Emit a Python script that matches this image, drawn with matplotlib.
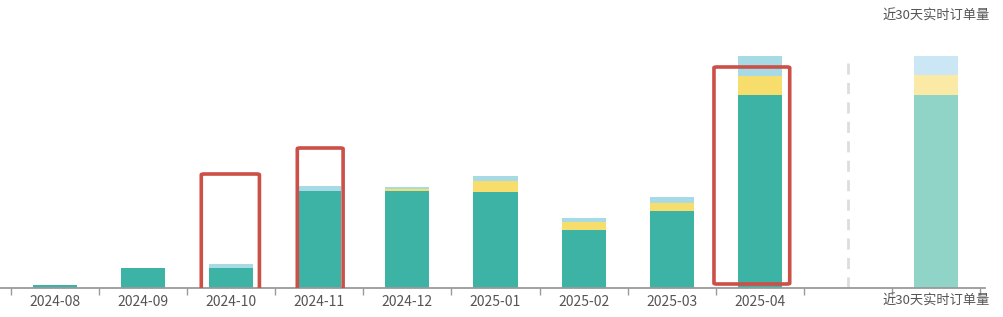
import matplotlib.pyplot as plt
from matplotlib.patches import FancyBboxPatch

plt.rcParams['font.family'] = ['Noto Sans CJK SC', 'DejaVu Sans']

# 数据
months = ["2024-08", "2024-09", "2024-10", "2024-11", "2024-12",
          "2025-01", "2025-02", "2025-03", "2025-04", "", "近30天实时订单量"]
teal = [3, 20, 20, 97, 97, 96, 58, 77, 193, 0, 193]
yellow = [0, 0, 0, 0, 2, 11, 8, 8, 19, 0, 20]
blue = [0, 0, 4, 5, 2, 5, 4, 6, 20, 0, 19]

W, H = 1004, 317
fig = plt.figure(figsize=(W / 100, H / 100), dpi=100)
ax = fig.add_axes([0, (H - 288) / H, 985 / W, 288 / H])

n = len(months)
cat = (980 - 11) / n
x0 = -0.5 - 11 / cat
x1 = n - 0.5 + 5 / cat
ax.set_xlim(x0, x1)
ax.set_ylim(0, 288)

xs = list(range(n))
c_teal = ["#3db3a6"] * (n - 1) + ["#8fd4c7"]
c_yel = ["#f6dd6c"] * (n - 1) + ["#fbeaa6"]
c_blue = ["#a6dbe6"] * (n - 1) + ["#cbe7f5"]

bot2 = [a + b for a, b in zip(teal, yellow)]
ax.bar(xs, teal, width=0.5, color=c_teal, zorder=2)
ax.bar(xs, yellow, width=0.5, bottom=teal, color=c_yel, zorder=2)
ax.bar(xs, blue, width=0.5, bottom=bot2, color=c_blue, zorder=2)

# 分隔虚线
ax.plot([9, 9], [0, 233], color="#dddddd", lw=2, ls=(0, (4, 3)), zorder=1)

# 红框标注 (中心, 宽, 下沿, 上沿)
boxes = [(1.99, 0.66, -2, 114), (3.01, 0.52, -2, 140), (7.91, 0.86, 4, 221)]
for cx, w, yb, yt in boxes:
    ax.add_patch(FancyBboxPatch((cx - w / 2, yb), w, yt - yb,
                                boxstyle="round,pad=0,rounding_size=0.03",
                                fill=False, ec="#cc4f48", lw=2.6, zorder=3,
                                mutation_aspect=30))

for s in ["top", "right", "left"]:
    ax.spines[s].set_visible(False)
ax.spines["bottom"].set_color("#9a9a9a")
ax.spines["bottom"].set_linewidth(1.3)
ax.set_yticks([])

ax.set_xticks([k - 0.5 for k in range(n + 1)])
ax.set_xticklabels([])
ax.tick_params(axis="x", which="major", length=5, color="#9a9a9a", width=1)
ax.set_xticks(xs, minor=True)
ax.set_xticklabels(months, minor=True, fontsize=10, color="#555555")
ax.tick_params(axis="x", which="minor", length=0, pad=5)
ax.get_xticklabels(minor=True)[-1].set_fontsize(9.5)

fig.text(936 / W, 1 - 16 / H, "近30天实时订单量", ha="center", va="center",
         fontsize=9.5, color="#555555")

fig.savefig("out.png", dpi=100)
